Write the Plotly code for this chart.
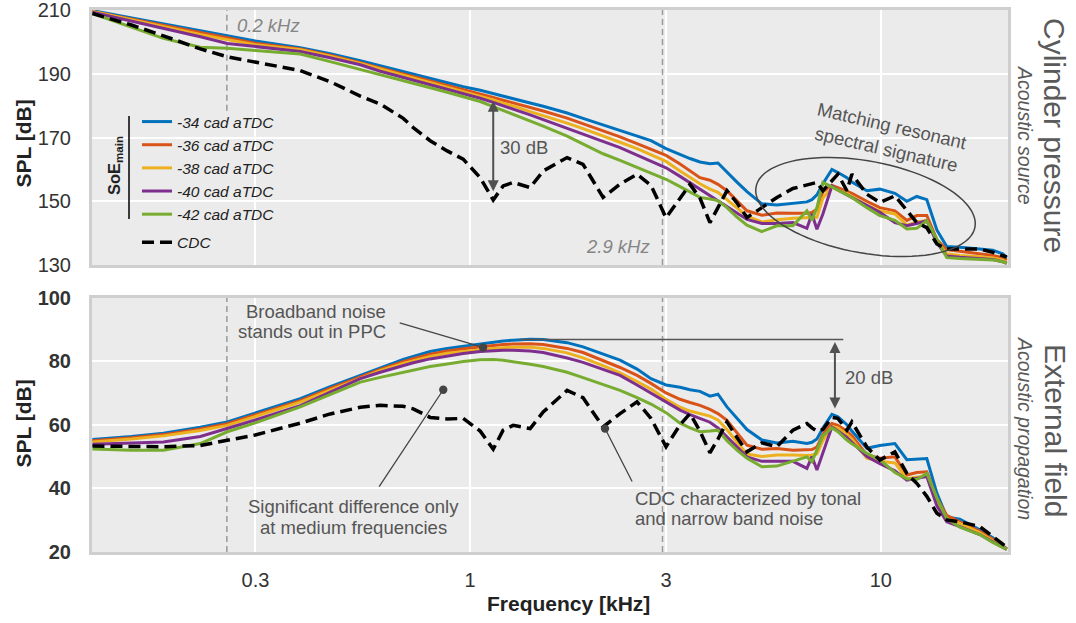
import numpy as np
import plotly.graph_objects as go

# ---------------- data ----------------
freq_khz = [0.1203, 0.1497, 0.1791, 0.2203, 0.2563, 0.2998, 0.3858, 0.4563, 0.5401, 0.6040,
            0.6871, 0.7268, 0.7992, 0.8791, 0.9617, 1.058, 1.138, 1.203, 1.273, 1.400,
            1.506, 1.722, 1.883, 2.107, 2.317, 2.549, 2.756, 2.999, 3.244, 3.430,
            3.627, 3.836, 4.012, 4.220, 4.463, 4.721, 5.133, 5.584, 6.108, 6.607,
            6.795, 6.988, 7.226, 7.600, 7.860, 8.267, 8.501, 9.246, 9.944, 10.82,
            11.57, 12.23, 12.94, 13.69, 14.47, 15.57, 17.41, 18.73, 19.81, 20.26]

soe_names = ["-34 cad aTDC", "-36 cad aTDC", "-38 cad aTDC", "-40 cad aTDC", "-42 cad aTDC"]
cdc_name = "CDC"

# Cylinder pressure SPL [dB]
cyl_m34 = [209.8, 207.5, 205.6, 203.4, 201.9, 200.3, 198.2, 196.3, 194.1, 192.5,
           190.7, 189.9, 188.4, 187.1, 185.9, 184.8, 183.7, 182.9, 182.1, 180.8,
           179.8, 177.7, 176.0, 173.9, 172.2, 170.4, 169.0, 166.5, 164.6, 163.4,
           162.3, 161.8, 162.0, 159.0, 156.0, 153.0, 149.2, 148.8, 149.4, 149.8,
           150.5, 152.0, 155.5, 160.0, 159.0, 157.4, 156.0, 153.3, 153.8, 152.5,
           150.0, 151.5, 150.5, 141.0, 135.8, 135.6, 135.0, 134.6, 133.5, 132.3]
cyl_m36 = [209.5, 207.1, 205.1, 202.9, 201.2, 199.6, 197.8, 195.8, 193.5, 191.9,
           190.0, 189.2, 187.8, 186.4, 185.1, 183.7, 182.6, 181.7, 180.9, 179.4,
           178.3, 176.1, 174.3, 172.2, 170.2, 168.1, 166.4, 164.4, 161.7, 159.5,
           157.4, 156.6, 155.3, 153.3, 150.0, 147.0, 145.6, 146.3, 146.2, 146.2,
           146.5, 147.5, 153.0, 155.0, 154.3, 153.3, 152.5, 150.0, 148.0, 147.0,
           144.0, 145.5, 145.5, 138.0, 134.8, 134.3, 133.5, 133.0, 132.3, 131.5]
cyl_m38 = [209.5, 206.9, 204.7, 202.3, 200.7, 199.1, 197.5, 195.5, 193.2, 191.5,
           189.6, 188.7, 187.3, 185.9, 184.5, 183.1, 181.8, 180.8, 179.9, 178.1,
           176.9, 174.5, 172.8, 170.6, 168.5, 166.5, 164.5, 162.5, 159.5, 157.5,
           155.5, 153.8, 152.8, 150.5, 148.0, 145.3, 143.5, 144.2, 144.7, 144.8,
           145.0, 145.0, 151.0, 154.5, 153.5, 152.5, 151.5, 148.8, 147.0, 146.0,
           142.5, 143.5, 144.0, 137.5, 133.5, 133.0, 132.6, 132.2, 131.5, 130.8]
cyl_m40 = [209.3, 206.6, 204.4, 201.6, 199.5, 198.6, 197.0, 195.0, 192.8, 190.8,
           188.9, 188.0, 186.6, 185.2, 183.8, 182.3, 181.0, 180.0, 178.9, 177.1,
           175.6, 172.9, 171.2, 168.8, 166.8, 164.5, 162.6, 160.5, 157.8, 155.8,
           153.9, 152.0, 150.3, 148.5, 146.5, 144.3, 143.0, 143.0, 143.3, 141.5,
           146.0, 141.2, 146.0, 154.8, 153.5, 152.0, 151.0, 148.5, 146.5, 143.3,
           142.3, 143.0, 143.9, 137.0, 132.8, 132.4, 132.0, 131.7, 131.0, 130.5]
cyl_m42 = [208.9, 204.6, 201.1, 198.3, 198.0, 197.3, 196.2, 193.8, 191.4, 189.8,
           187.9, 187.0, 185.6, 184.2, 182.9, 181.3, 179.7, 178.5, 177.3, 175.2,
           173.6, 170.4, 168.0, 164.9, 162.8, 160.7, 158.9, 156.9, 154.6, 152.9,
           151.2, 150.7, 150.2, 148.0, 145.0, 142.5, 140.5, 142.3, 142.3, 147.0,
           144.0, 148.0, 155.9, 154.5, 153.5, 152.2, 151.2, 148.0, 145.5, 144.0,
           141.3, 141.5, 143.9, 138.0, 132.3, 132.0, 131.8, 131.6, 131.0, 130.5]
cyl_cdc = [208.9, 205.3, 201.9, 197.8, 195.3, 193.6, 191.0, 187.5, 183.0, 180.5,
           176.0, 173.1, 169.0, 165.8, 163.2, 157.4, 150.4, 154.8, 155.9, 154.3,
           159.5, 163.7, 161.6, 151.2, 155.4, 158.5, 155.0, 144.8, 151.0, 155.3,
           151.0, 143.3, 148.0, 153.3, 149.5, 144.9, 148.0, 151.2, 154.0, 155.0,
           155.5, 155.9, 153.3, 156.5, 158.5, 153.3, 158.5, 152.2, 149.6, 151.7,
           147.0, 143.3, 141.7, 136.6, 135.0, 135.0, 135.0, 134.0, 132.9, 132.5]

# External field SPL [dB]
ext_m34 = [55.4, 56.3, 57.3, 59.2, 60.9, 63.7, 68.2, 72.0, 75.6, 78.0,
           80.5, 81.5, 83.0, 84.0, 84.7, 85.4, 85.9, 86.3, 86.6, 86.9,
           86.8, 85.8, 84.5, 82.3, 80.3, 77.5, 74.5, 72.5, 71.8, 71.0,
           70.5, 69.0, 69.6, 65.6, 62.0, 58.5, 55.2, 54.3, 54.8, 54.1,
           54.5, 55.5, 59.0, 63.3, 62.5, 60.0, 58.0, 52.6, 53.5, 54.1,
           49.0, 49.2, 49.4, 38.5, 31.0, 30.3, 27.0, 24.5, 22.0, 21.0]
ext_m36 = [55.0, 55.9, 56.9, 58.7, 60.3, 63.1, 67.6, 71.4, 75.0, 77.4,
           79.8, 80.8, 82.2, 83.2, 83.9, 84.5, 84.9, 85.2, 85.4, 85.5,
           85.2, 84.0, 82.7, 80.2, 78.0, 75.5, 73.0, 70.0, 68.0, 67.0,
           66.1, 64.8, 63.5, 61.4, 57.5, 53.6, 52.3, 52.5, 52.0, 52.0,
           52.2, 53.0, 57.0, 60.4, 59.8, 58.0, 56.5, 50.5, 49.5, 49.9,
           44.2, 45.0, 45.2, 37.0, 31.5, 29.5, 26.5, 24.0, 22.0, 21.0]
ext_m38 = [54.6, 55.5, 56.5, 58.2, 59.8, 62.6, 67.1, 70.9, 74.7, 77.0,
           79.3, 80.2, 81.5, 82.5, 83.1, 83.7, 84.0, 84.2, 84.4, 84.4,
           84.0, 82.6, 81.0, 78.6, 76.3, 73.6, 71.2, 68.0, 65.5, 64.3,
           63.5, 62.7, 61.5, 58.5, 54.5, 50.8, 50.0, 50.5, 50.5, 50.3,
           50.5, 50.8, 55.0, 59.5, 59.0, 57.0, 55.5, 49.5, 48.5, 48.0,
           43.0, 43.5, 44.0, 36.0, 30.5, 29.0, 26.0, 23.5, 21.5, 20.8]
ext_m40 = [53.9, 54.2, 54.6, 56.3, 58.8, 61.5, 66.0, 70.2, 74.5, 76.5,
           78.6, 79.5, 80.7, 81.6, 82.4, 83.0, 83.3, 83.4, 83.4, 83.2,
           82.7, 81.0, 79.6, 77.5, 75.5, 72.5, 70.0, 67.2, 64.6, 63.2,
           62.0, 60.8, 59.0, 56.2, 53.0, 49.9, 48.5, 48.5, 48.5, 46.3,
           50.0, 45.8, 51.0, 59.3, 58.0, 56.0, 54.5, 50.0, 47.8, 45.5,
           42.6, 43.2, 43.7, 34.5, 29.5, 28.0, 25.5, 23.2, 21.5, 20.8]
ext_m42 = [52.4, 52.0, 52.0, 54.1, 57.8, 60.6, 65.6, 69.5, 73.4, 74.9,
           76.5, 77.2, 78.3, 79.1, 79.9, 80.4, 80.5, 80.3, 79.9, 79.0,
           78.3, 76.5, 74.8, 72.5, 70.8, 68.5, 66.5, 63.8, 60.5, 59.0,
           57.8, 58.0, 58.3, 55.0, 52.0, 49.5, 46.8, 47.0, 48.5, 49.9,
           48.4, 52.0, 56.5, 59.0, 57.8, 55.2, 54.0, 51.0, 49.0, 45.0,
           43.0, 42.8, 44.7, 37.0, 30.5, 27.8, 25.5, 23.0, 21.5, 20.8]
ext_cdc = [53.3, 53.2, 53.1, 53.5, 55.0, 56.8, 60.5, 63.4, 65.5, 66.1,
           65.8, 65.0, 62.3, 61.8, 62.0, 58.0, 52.3, 58.3, 59.8, 58.8,
           64.0, 70.8, 68.5, 59.3, 63.5, 67.2, 62.0, 53.1, 60.0, 63.5,
           58.0, 51.2, 55.5, 60.9, 56.0, 51.5, 54.3, 53.1, 58.3, 60.4,
           59.0, 58.0, 58.5, 62.3, 62.0, 58.3, 60.9, 53.0, 48.9, 51.5,
           44.7, 41.6, 37.5, 32.2, 30.1, 29.5, 28.0, 25.0, 22.5, 21.5]

y_ticks_cyl = [130, 150, 170, 190, 210]
y_ticks_ext = [20, 40, 60, 80, 100]
x_ticks = [0.3, 1, 3, 10]
x_tick_text = ["0.3", "1", "3", "10"]

# ---------------- styling ----------------
FONT = "Liberation Sans, Arial, Helvetica, sans-serif"
soe_colors = ["#0072BD", "#D95319", "#EDB120", "#7E2F8E", "#77AC30"]
BG = "#EBEBEB"
FRAME = "#CFCFCF"
ANN = "#555555"

cyl_series = [cyl_m34, cyl_m36, cyl_m38, cyl_m40, cyl_m42]
ext_series = [ext_m34, ext_m36, ext_m38, ext_m40, ext_m42]

fig = go.Figure()
for name, col, vals in zip(soe_names, soe_colors, cyl_series):
    fig.add_trace(go.Scatter(x=freq_khz, y=vals, mode="lines", name=name,
                             line=dict(color=col, width=3), legendgroup="soe",
                             xaxis="x", yaxis="y"))
fig.add_trace(go.Scatter(x=freq_khz, y=cyl_cdc, mode="lines", name=cdc_name,
                         line=dict(color="black", width=3.5, dash="12px,6px"),
                         legendgroup="cdc", xaxis="x", yaxis="y"))
for name, col, vals in zip(soe_names, soe_colors, ext_series):
    fig.add_trace(go.Scatter(x=freq_khz, y=vals, mode="lines", name=name,
                             line=dict(color=col, width=3), legendgroup="soe",
                             showlegend=False, xaxis="x2", yaxis="y2"))
fig.add_trace(go.Scatter(x=freq_khz, y=ext_cdc, mode="lines", name=cdc_name,
                         line=dict(color="black", width=3.5, dash="12px,6px"),
                         legendgroup="cdc", showlegend=False, xaxis="x2", yaxis="y2"))

xr = [np.log10(0.12), np.log10(20.4)]
common_x = dict(type="log", range=xr, tickvals=x_ticks, ticktext=x_tick_text,
                showgrid=True, gridcolor="white", gridwidth=2, zeroline=False,
                showline=True, mirror=True, linecolor=FRAME, linewidth=3, ticks="",
                automargin=False, ticklabeloverflow="allow",
                tickfont=dict(family=FONT, size=20, color="#333333"), ticklabelstandoff=8)
common_y = dict(showgrid=True, gridcolor="white", gridwidth=2, zeroline=False,
                showline=True, mirror=True, linecolor=FRAME, linewidth=3, ticks="",
                automargin=False, ticklabeloverflow="allow", ticklabelstandoff=14)

L, R, T, B = 92, 68, 10, 71
W, H = 1076, 623
PW, PH = W - L - R, H - T - B


def px(x):
    return (x - L) / PW


def py(y):
    return (H - B - y) / PH


fig.update_layout(
    width=W, height=H,
    margin=dict(l=L, r=R, t=T, b=B, autoexpand=False),
    paper_bgcolor="white", plot_bgcolor=BG,
    font=dict(family=FONT, color="#333333"),
    xaxis=dict(common_x, domain=[0, 1], anchor="y", showticklabels=False),
    xaxis2=dict(common_x, domain=[0, 1], anchor="y2", matches="x"),
    yaxis=dict(common_y, domain=[py(265), 1], anchor="x", range=[130, 210],
               tickvals=y_ticks_cyl,
               tickfont=dict(family=FONT, size=20, color="#333333")),
    yaxis2=dict(common_y, domain=[0, py(297.5)], anchor="x2", range=[20, 100],
                tickvals=y_ticks_ext,
                tickfont=dict(family=FONT, size=20, color="#333333", weight="bold")),
    showlegend=True,
    legend=dict(x=px(137), y=py(105), xanchor="left", yanchor="top",
                bgcolor="rgba(0,0,0,0)", borderwidth=0,
                font=dict(family=FONT, size=15.5, color="#222222", style="italic"),
                traceorder="grouped", tracegroupgap=5, itemwidth=30),
)


def lx(f):
    return float(np.log10(f))


anns = []


def text_ann(text, x, y, xref, yref, size=18.5, color=ANN, **kw):
    d = dict(text=text, x=x, y=y, xref=xref, yref=yref, showarrow=False,
             font=dict(family=FONT, size=size, color=color))
    d.update(kw)
    anns.append(d)


# right-hand panel titles
text_ann("Cylinder pressure", px(1055), py(135), "paper", "paper", size=30, color="#5a5a5a",
         textangle=90, xanchor="center", yanchor="middle")
text_ann("<i>Acoustic source</i>", px(1025), py(135), "paper", "paper", size=19.5, color="#5a5a5a",
         textangle=90, xanchor="center", yanchor="middle")
text_ann("External field", px(1055), py(430), "paper", "paper", size=30, color="#5a5a5a",
         textangle=90, xanchor="center", yanchor="middle")
text_ann("<i>Acoustic propagation</i>", px(1025), py(428), "paper", "paper", size=19.5,
         color="#5a5a5a", textangle=90, xanchor="center", yanchor="middle")

# axis titles
text_ann("<b>SPL [dB]</b>", px(22.5), py(144), "paper", "paper", size=21, color="#222222",
         textangle=-90, xanchor="center", yanchor="middle")
text_ann("<b>SPL [dB]</b>", px(22.5), py(424), "paper", "paper", size=21, color="#222222",
         textangle=-90, xanchor="center", yanchor="middle")
text_ann("<b>Frequency [kHz]</b>", px(568), py(603), "paper", "paper", size=21, color="#222222",
         xanchor="center", yanchor="middle")

# legend group label
text_ann("<b>SoE<sub>main</sub></b>", px(115), py(166), "paper", "paper", size=16.5,
         color="#222222", textangle=-90, xanchor="center", yanchor="middle")

# top panel annotations
text_ann("<i>0.2 kHz</i>", lx(0.268), 205.1, "x", "y", size=18.5, color="#858585",
         xanchor="left", yanchor="middle")
text_ann("<i>2.9 kHz</i>", lx(2.77), 135.7, "x", "y", size=18.5, color="#858585",
         xanchor="right", yanchor="middle")
text_ann("30 dB", lx(1.17), 166.8, "x", "y", xanchor="left", yanchor="middle")
text_ann("Matching resonant<br>spectral signature", lx(10.47), 169.9, "x", "y",
         textangle=13, xanchor="center", yanchor="middle")
anns.append(dict(text="", x=lx(1.138), y=181.5, ax=lx(1.138), ay=152.7,
                 xref="x", yref="y", axref="x", ayref="y", showarrow=True,
                 arrowhead=2, arrowside="end+start", arrowsize=1.1, arrowwidth=2,
                 arrowcolor="#505050"))

# bottom panel annotations
text_ann("20 dB", lx(8.08), 74.9, "x2", "y2", xanchor="left", yanchor="middle")
anns.append(dict(text="", x=lx(7.73), y=86.0, ax=lx(7.73), ay=64.6,
                 xref="x2", yref="y2", axref="x2", ayref="y2", showarrow=True,
                 arrowhead=2, arrowside="end+start", arrowsize=1.1, arrowwidth=2,
                 arrowcolor="#505050"))
text_ann("Broadband noise", lx(0.632), 95.5, "x2", "y2", xanchor="right", yanchor="middle")
text_ann("stands out in PPC", lx(0.632), 89.2, "x2", "y2", xanchor="right", yanchor="middle")
text_ann("Significant difference only", lx(0.521), 34.2, "x2", "y2", xanchor="center",
         yanchor="middle")
text_ann("at medium frequencies", lx(0.521), 27.8, "x2", "y2", xanchor="center",
         yanchor="middle")
text_ann("CDC characterized by tonal", lx(2.49), 36.9, "x2", "y2", xanchor="left",
         yanchor="middle")
text_ann("and narrow band noise", lx(2.49), 30.5, "x2", "y2", xanchor="left",
         yanchor="middle")
for (fx, fy, tx, ty) in [(1.075, 84.3, 0.668, 92.2), (0.860, 71.0, 0.597, 40.1),
                         (2.13, 58.8, 2.49, 41.7)]:
    anns.append(dict(text="", x=lx(fx), y=fy, ax=lx(tx), ay=ty,
                     xref="x2", yref="y2", axref="x2", ayref="y2", showarrow=True,
                     arrowhead=6, arrowsize=1.6, arrowwidth=1.3, arrowcolor="#444444"))

fig.update_layout(annotations=anns)

# shapes
shapes = []
dash_line = dict(color="#9A9A9A", width=1.5, dash="6px,4px")
shapes.append(dict(type="line", xref="x", yref="y", x0=0.2556, x1=0.2556, y0=178.4, y1=210,
                   line=dash_line, layer="between"))
shapes.append(dict(type="line", xref="x", yref="y", x0=2.94, x1=2.94, y0=130, y1=210,
                   line=dash_line, layer="between"))
shapes.append(dict(type="line", xref="x2", yref="y2", x0=0.2556, x1=0.2556, y0=20, y1=100,
                   line=dash_line, layer="between"))
shapes.append(dict(type="line", xref="x2", yref="y2", x0=2.94, x1=2.94, y0=20, y1=100,
                   line=dash_line, layer="between"))
# broadband reference line
shapes.append(dict(type="line", xref="x2", yref="y2", x0=1.323, x1=8.10, y0=86.8, y1=86.8,
                   line=dict(color="#555555", width=1.5)))
# legend group bar
shapes.append(dict(type="line", xref="paper", yref="paper", x0=px(129), x1=px(129),
                   y0=py(116), y1=py(219), line=dict(color="black", width=1.5)))
# tilted ellipse (pixel geometry -> paper)
cx, cy, a, b, th = 865.5, 207.0, 111.3, 46.0, np.deg2rad(10.4)
t = np.linspace(0, 2 * np.pi, 90)
ex = cx + a * np.cos(t) * np.cos(th) - b * np.sin(t) * np.sin(th)
ey = cy + a * np.cos(t) * np.sin(th) + b * np.sin(t) * np.cos(th)
path = "M " + " L ".join(f"{px(u):.5f},{py(v):.5f}" for u, v in zip(ex, ey)) + " Z"
shapes.append(dict(type="path", xref="paper", yref="paper", path=path,
                   line=dict(color="#444444", width=1.5)))
fig.update_layout(shapes=shapes)

fig.write_html("out.html")
